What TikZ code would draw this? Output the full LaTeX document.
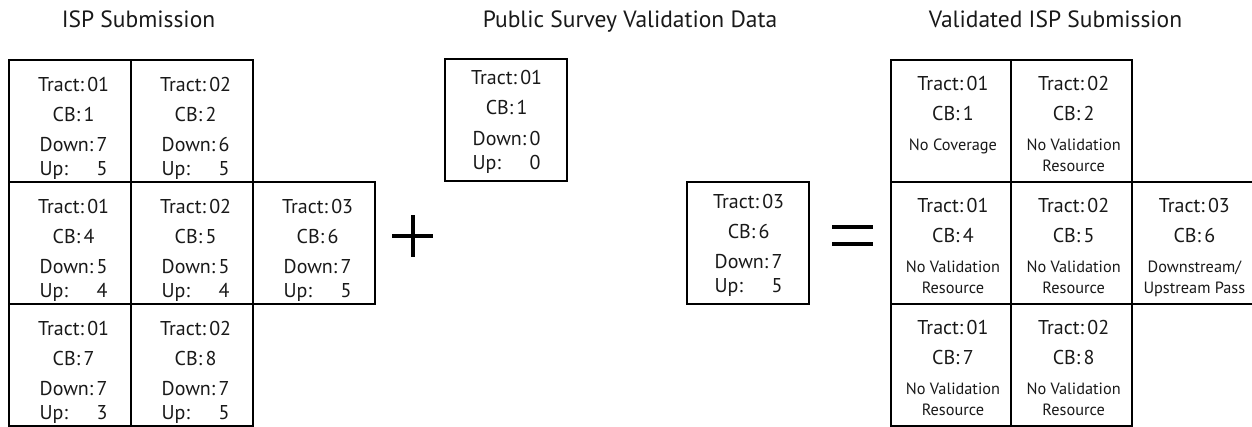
\documentclass[tikz,border=0pt]{standalone}
\usepackage{fontspec}
\setmainfont{PT Sans}
\usetikzlibrary{calc}

% Text offsets inside a data cell (horizontal shift, vertical shift)
\def\txdx{4}
\def\txdy{0}
\def\txnx{2}

% ISP-style cell: name, x, y, tract, block, down, up
\newcommand\speedcell[7]{%
  \node[cellbox] (#1) at (#2,#3) {};
  \node[celltext] (#1-t) at ($(#1.north)+(\txdx,\txdy+32)$) {Tract:\,#4};
  \node[celltext] (#1-c) at ($(#1.north)+(\txdx,\txdy+62)$) {CB:\,#5};
  \node[celltext] (#1-d) at ($(#1.north)+(\txdx,\txdy+92.5)$) {Down:\,#6};
  \node[celltext,anchor=base west] (#1-u) at ($(#1-d.base west)+(0,24)$) {Up:};
  \node[celltext,anchor=base east] (#1-v) at ($(#1-d.base east)+(0,24)$) {#7};
}

% Result cell: name, x, y, tract, block, note line 1, note line 2
\newcommand\resultcell[7]{%
  \node[cellbox,minimum width=120.7pt] (#1) at (#2,#3) {};
  \node[celltext] (#1-t) at ($(#1.north)+(\txnx,31)$) {Tract:\,#4};
  \node[celltext] (#1-c) at ($(#1.north)+(\txnx,61)$) {CB:\,#5};
  \node[notetext] (#1-n) at ($(#1.north)+(\txnx,91.5)$) {#6};
  \node[notetext] (#1-m) at ($(#1.north)+(\txnx,112)$) {#7};
}

\tikzset{
  cellbox/.style={draw=black, line width=2.2pt, minimum width=122pt,
    minimum height=122pt, inner sep=0pt, anchor=north west},
  celltext/.style={anchor=base, inner sep=0pt, text=black!90,
    font=\fontsize{20}{23}\selectfont},
  notetext/.style={anchor=base, inner sep=0pt, text=black!90,
    font=\fontsize{16.3}{19}\selectfont},
  heading/.style={anchor=base, inner sep=0pt, text=black!90,
    font=\fontsize{23.5}{27}\selectfont},
  opbar/.style={draw=black, line width=4pt},
}

\begin{document}
\begin{tikzpicture}[x=1pt, y=-1pt]
  \fill[white] (0,0) rectangle (1252,426);
  \useasboundingbox (0,0) rectangle (1252,426);

  % headings
  \node[heading] (h1) at (138.5,27) {ISP Submission};
  \node[heading] (h2) at (630,27) {Public Survey Validation Data};
  \node[heading] (h3) at (1055.5,27) {Validated ISP Submission};

  % ISP submission grid
  \speedcell{a1}{7.5}{59}{01}{1}{7}{5}
  \speedcell{a2}{129.5}{59}{02}{2}{6}{5}
  \speedcell{a4}{7.5}{181}{01}{4}{5}{4}
  \speedcell{a5}{129.5}{181}{02}{5}{5}{4}
  \speedcell{a6}{251.5}{181}{03}{6}{7}{5}
  \speedcell{a7}{7.5}{303}{01}{7}{7}{3}
  \speedcell{a8}{129.5}{303}{02}{8}{7}{5}

  % plus sign
  \coordinate (plusc) at (412.5,236);
  \draw[opbar] ($(plusc)+(-20.5,0)$) -- ($(plusc)+(20.5,0)$);
  \draw[opbar] ($(plusc)+(0,-21)$) -- ($(plusc)+(0,21)$);

  % public survey data
  \def\txdx{1}
  \def\txdy{-5.5}
  \speedcell{p1}{443.5}{58}{01}{1}{0}{0}
  \def\txdy{-4.5}
  \speedcell{p6}{685.5}{180.5}{03}{6}{7}{5}

  % equals sign
  \coordinate (eqc) at (852.5,235.25);
  \draw[opbar] ($(eqc)+(-20.5,-8.25)$) -- ($(eqc)+(20.5,-8.25)$);
  \draw[opbar] ($(eqc)+(-20.5,8.25)$) -- ($(eqc)+(20.5,8.25)$);

  % validated grid
  \resultcell{v1}{889.5}{59}{01}{1}{No Coverage}{}
  \resultcell{v2}{1010.2}{59}{02}{2}{No Validation}{Resource}
  \resultcell{v4}{889.5}{181}{01}{4}{No Validation}{Resource}
  \resultcell{v5}{1010.2}{181}{02}{5}{No Validation}{Resource}
  \resultcell{v6}{1130.9}{181}{03}{6}{Downstream/}{Upstream Pass}
  \resultcell{v7}{889.5}{303}{01}{7}{No Validation}{Resource}
  \resultcell{v8}{1010.2}{303}{02}{8}{No Validation}{Resource}
\end{tikzpicture}
\end{document}
